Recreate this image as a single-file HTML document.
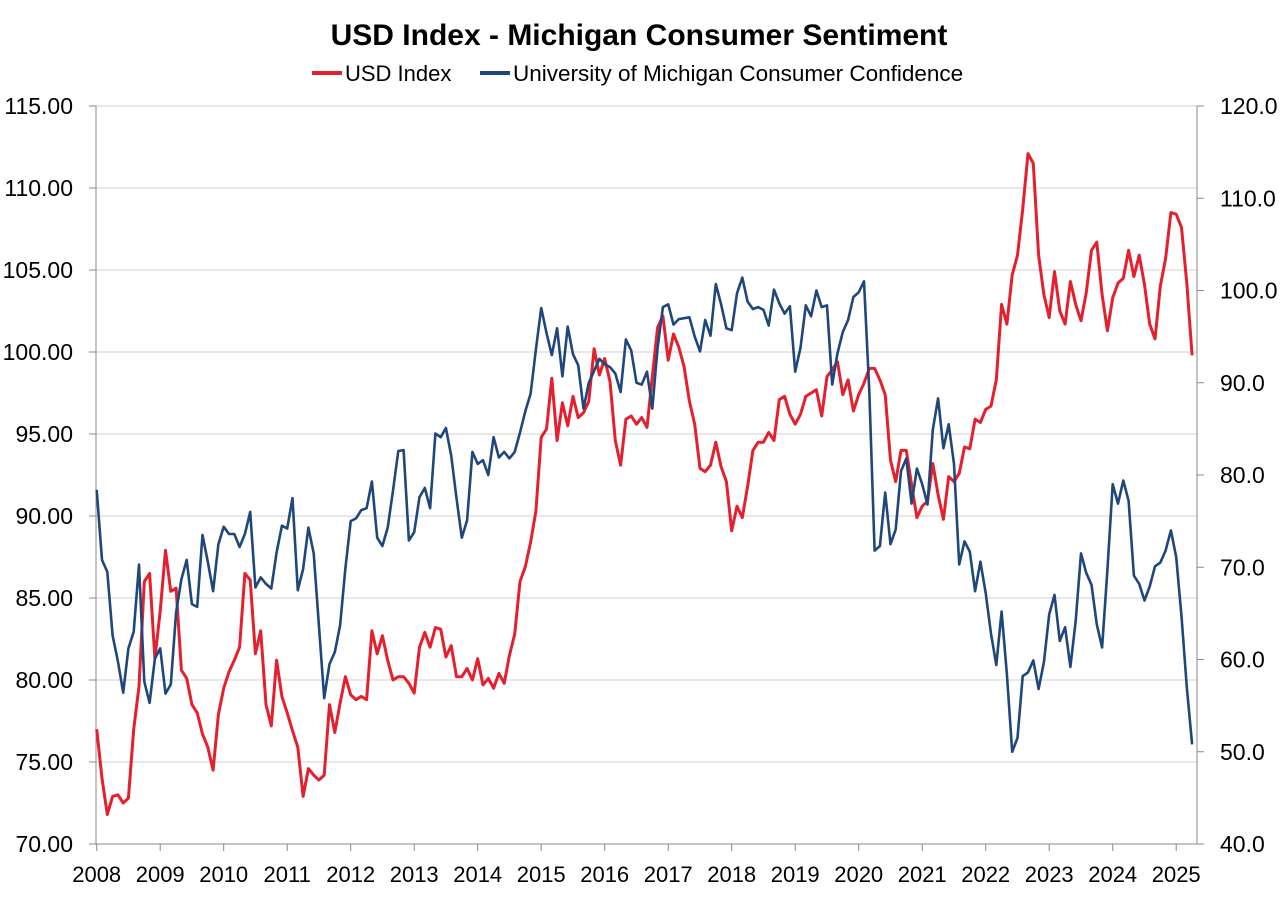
<!DOCTYPE html>
<html><head><meta charset="utf-8"><style>
body{margin:0;background:#fff;font-family:"Liberation Sans",sans-serif}
svg text{font-family:"Liberation Sans",sans-serif}
</style></head><body>
<svg id="c" width="1280" height="894">
<text x="639" y="45" text-anchor="middle" font-size="30" font-weight="bold">USD Index - Michigan Consumer Sentiment</text>
<g>
<line x1="312" y1="73" x2="342" y2="73" stroke="#e5202e" stroke-width="4"/>
<text x="345" y="81" font-size="22">USD Index</text>
<line x1="480" y1="73" x2="510" y2="73" stroke="#1f477c" stroke-width="4"/>
<text x="513" y="81" font-size="22.5">University of Michigan Consumer Confidence</text>
</g>
<g id="grid"></g><g id="axes"></g><g id="series"></g>
</svg>
<script>
const leftTicks=[70,75,80,85,90,95,100,105,110,115];
const rightTicks=[40,50,60,70,80,90,100,110,120];
const years=[2008,2009,2010,2011,2012,2013,2014,2015,2016,2017,2018,2019,2020,2021,2022,2023,2024,2025];
const usdStartYear=2008;
const usd=[
77.0,74.0,71.8,72.9,73.0,72.5,72.8,77.0,79.6,86.0,86.5,81.3,
84.2,87.9,85.4,85.6,80.6,80.1,78.5,78.0,76.7,75.9,74.5,77.9,
79.5,80.5,81.2,82.0,86.5,86.1,81.6,83.0,78.5,77.2,81.2,79.0,
78.0,76.9,75.9,72.9,74.6,74.2,73.9,74.2,78.5,76.8,78.6,80.2,
79.1,78.8,79.0,78.8,83.0,81.6,82.7,81.2,80.0,80.2,80.2,79.8,
79.2,82.0,82.9,82.0,83.2,83.1,81.4,82.1,80.2,80.2,80.7,80.0,
81.3,79.7,80.1,79.5,80.4,79.8,81.5,82.8,86.0,86.9,88.4,90.3,
94.8,95.3,98.4,94.6,96.9,95.5,97.3,96.0,96.3,97.0,100.2,98.6,
99.6,98.2,94.6,93.1,95.9,96.1,95.6,96.0,95.4,98.5,101.5,102.2,
99.5,101.1,100.3,99.1,97.0,95.6,92.9,92.7,93.1,94.5,93.0,92.1,
89.1,90.6,89.9,91.8,94.0,94.5,94.5,95.1,94.6,97.1,97.3,96.2,
95.6,96.2,97.3,97.5,97.7,96.1,98.5,98.9,99.4,97.4,98.3,96.4,
97.4,98.1,99.0,99.0,98.3,97.4,93.4,92.1,94.0,94.0,91.9,89.9,
90.6,90.9,93.2,91.3,89.8,92.4,92.1,92.6,94.2,94.1,95.9,95.7,
96.5,96.7,98.3,102.9,101.7,104.7,105.9,108.7,112.1,111.5,105.9,103.5,
102.1,104.9,102.5,101.7,104.3,102.9,101.9,103.6,106.2,106.7,103.5,101.3,
103.3,104.2,104.5,106.2,104.6,105.9,104.1,101.7,100.8,104.0,105.7,108.5,
108.4,107.6,104.2,99.8];
const umich=[
78.4,70.8,69.5,62.6,59.8,56.4,61.2,63.0,70.3,57.6,55.3,60.1,
61.2,56.3,57.3,65.1,68.7,70.8,66.0,65.7,73.5,70.6,67.4,72.5,
74.4,73.6,73.6,72.2,73.6,76.0,67.8,68.9,68.2,67.7,71.6,74.5,
74.2,77.5,67.5,69.8,74.3,71.5,63.7,55.8,59.5,60.8,63.7,69.9,
75.0,75.3,76.2,76.4,79.3,73.2,72.3,74.3,78.3,82.6,82.7,72.9,
73.8,77.6,78.6,76.4,84.5,84.1,85.1,82.1,77.5,73.2,75.1,82.5,
81.2,81.6,80.0,84.1,81.9,82.5,81.8,82.5,84.6,86.9,88.8,93.6,
98.1,95.4,93.0,95.9,90.7,96.1,93.1,91.9,87.2,90.0,91.3,92.6,
92.0,91.7,91.0,89.0,94.7,93.5,90.0,89.8,91.2,87.2,93.8,98.2,
98.5,96.3,96.9,97.0,97.1,95.0,93.4,96.8,95.1,100.7,98.5,95.9,
95.7,99.7,101.4,98.8,98.0,98.2,97.9,96.2,100.1,98.6,97.5,98.3,
91.2,93.8,98.4,97.2,100.0,98.2,98.4,89.8,93.2,95.5,96.8,99.3,
99.8,101.0,89.1,71.8,72.3,78.1,72.5,74.1,80.4,81.8,76.9,80.7,
79.0,76.8,84.9,88.3,82.9,85.5,81.2,70.3,72.8,71.7,67.4,70.6,
67.2,62.8,59.4,65.2,58.4,50.0,51.5,58.2,58.6,59.9,56.8,59.7,
64.9,67.0,62.0,63.5,59.2,64.2,71.5,69.4,68.1,63.8,61.3,69.7,
79.0,76.9,79.4,77.2,69.1,68.2,66.4,67.9,70.1,70.5,71.8,74.0,
71.1,64.7,57.0,50.8];
const X0=96,X1=1197,T=106,B=844;
const xs=t=>96.7+(t-2008)*63.5;
const yl=v=>B-(v-70)/45*(B-T);
const yr=v=>B-(v-40)/80*(B-T);
const NS="http://www.w3.org/2000/svg";
function mk(p,tag,at){const e=document.createElementNS(NS,tag);for(const k in at)e.setAttribute(k,at[k]);p.appendChild(e);return e;}
const grid=document.getElementById('grid'),axes=document.getElementById('axes'),ser=document.getElementById('series');
leftTicks.forEach(v=>{
 const l=mk(grid,'line',{x1:X0,x2:X1,y1:yl(v),y2:yl(v),stroke:'#d0d0d0','stroke-width':1});
 
 
 const t=mk(axes,'text',{x:73,y:yl(v)+8,'text-anchor':'end','font-size':23});
 t.textContent=v.toFixed(2);
 
 
 mk(axes,'line',{x1:X0-7,x2:X0,y1:yl(v),y2:yl(v),stroke:'#888'});
});
rightTicks.forEach(v=>{
 const t=mk(axes,'text',{x:1220,y:yr(v)+8,'font-size':23});
 t.textContent=v.toFixed(1);
 
 
 mk(axes,'line',{x1:X1,x2:X1+7,y1:yr(v),y2:yr(v),stroke:'#888'});
});
years.forEach(y=>{
 const t=mk(axes,'text',{x:xs(y),y:B+38,'text-anchor':'middle','font-size':22});
 t.textContent=y;
 
 
 mk(axes,'line',{x1:xs(y),x2:xs(y),y1:B,y2:B+7,stroke:'#888'});
});
mk(axes,'line',{x1:X0,x2:X0,y1:T,y2:B,stroke:'#888'});
mk(axes,'line',{x1:X1,x2:X1,y1:T,y2:B,stroke:'#888'});
mk(axes,'line',{x1:X0-7,x2:X1+7,y1:B,y2:B,stroke:'#888'});
const pu=usd.map((v,i)=>xs(usdStartYear+i/12).toFixed(1)+','+yl(v).toFixed(1)).join(' ');
const lu=mk(ser,'polyline',{points:pu,fill:'none',stroke:'#e5202e','stroke-width':3,'stroke-linejoin':'round'});


const pm=umich.map((v,i)=>xs(2008+i/12).toFixed(1)+','+yr(v).toFixed(1)).join(' ');
const lm=mk(ser,'polyline',{points:pm,fill:'none',stroke:'#1f477c','stroke-width':2.6,'stroke-linejoin':'round'});


</script>
</body></html>
